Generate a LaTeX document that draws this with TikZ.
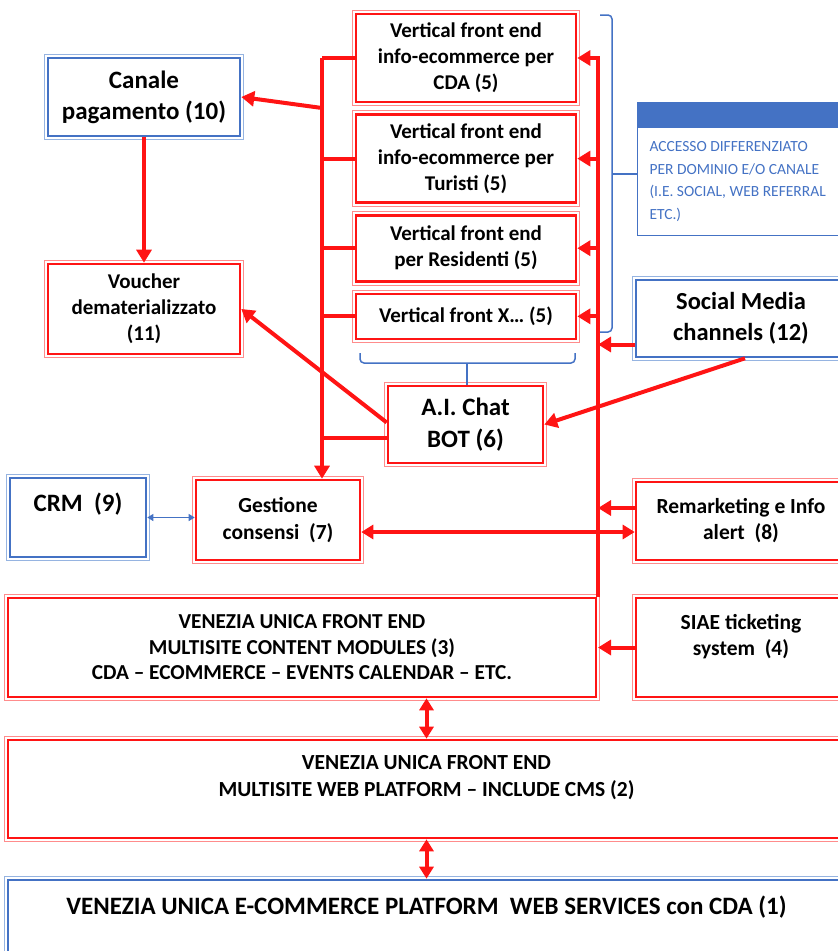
\documentclass[tikz,border=0pt]{standalone}
\usepackage{fontspec}
\setmainfont{Carlito}
\usetikzlibrary{arrows.meta}
\usetikzlibrary{positioning}

\definecolor{vred}{RGB}{255,20,20}
\definecolor{vpink}{RGB}{255,140,140}
\definecolor{vblue}{RGB}{68,114,196}
\definecolor{vlblue}{RGB}{150,180,225}

\tikzset{
  box/.style={line width=2.6pt, align=center, inner sep=2pt, font=\bfseries\fontsize{21.5}{26}\selectfont},
  redbox/.style={box, draw=vred},
  bluebox/.style={box, draw=vblue},
  link/.style={draw=vred, line width=4pt},
  arr/.style={link, -{Triangle[length=13pt,width=15pt]}},
  darr/.style={link, {Triangle[length=12pt,width=14pt]}-{Triangle[length=12pt,width=14pt]}},
  blink/.style={draw=vblue, line width=1pt, {Triangle[length=6pt,width=7pt]}-{Triangle[length=6pt,width=7pt]}},
  brace/.style={draw=vblue, line width=1.5pt, rounded corners=4pt},
}

\begin{document}
\begin{tikzpicture}[x=1pt,y=-1pt]
        \useasboundingbox (0,0) rectangle (838,951);

        % Vertical front ends
        \node[redbox, minimum width=220pt, minimum height=88pt, font=\bfseries\fontsize{21}{26}\selectfont]  (v1) at (466,58) {Vertical front end\\info-ecommerce per\\CDA (5)};
        \node[redbox, minimum width=220pt, minimum height=88pt, font=\bfseries\fontsize{21}{26}\selectfont, below=10pt of v1]  (v2) {Vertical front end\\info-ecommerce per\\Turisti (5)};
        \node[redbox, minimum width=220pt, minimum height=66pt, font=\bfseries\fontsize{21}{26}\selectfont, below=10pt of v2]  (v3) {Vertical front end\\per Residenti (5)};
        \node[redbox, minimum width=220pt, minimum height=45pt, font=\bfseries\fontsize{21}{26}\selectfont, below=10pt of v3]  (v4) {Vertical front X… (5)};

        % Left side
        \node[bluebox, minimum width=192pt, minimum height=78pt, font=\bfseries\fontsize{25}{31}\selectfont]  (pay) at (144,97) {Canale\\pagamento (10)};
        \node[redbox, minimum width=192pt, minimum height=90pt, font=\bfseries\fontsize{21}{26}\selectfont]  (vouch) at (144,309) {Voucher\\dematerializzato\\(11)};
        \node[redbox, minimum width=155pt, minimum height=77pt, font=\bfseries\fontsize{25}{32}\selectfont]  (bot) at (465.5,424.5) {A.I. Chat\\BOT (6)};
        \node[bluebox, minimum width=136pt, minimum height=79pt, font=\bfseries\fontsize{25}{31}\selectfont]  (crm) at (78,517.5) {CRM~~(9)\\\mbox{}};
        \node[redbox, minimum width=164pt, minimum height=80pt, font=\bfseries\fontsize{21.5}{27}\selectfont]  (cons) at (278,520) {Gestione\\consensi~~(7)};

        % Right side
        \node[bluebox, minimum width=210pt, minimum height=77pt, font=\bfseries\fontsize{24.5}{31}\selectfont]  (soc) at (741,318.5) {Social Media\\channels (12)};
        \node[redbox, minimum width=210pt, minimum height=78pt]  (remk) at (741,521) {Remarketing e Info\\alert~~(8)};
        \node[redbox, minimum width=210pt, minimum height=99pt]  (siae) at (741,647.5) {SIAE ticketing\\system~~(4)\\\mbox{}};

        \node[anchor=north west, draw=vblue, line width=1pt, minimum width=214pt, minimum height=108pt,
              text width=195pt, inner xsep=12pt, align=flush left, text=vblue,
              font=\fontsize{15.5}{22.5}\selectfont]  (note) at (637,127)
              {ACCESSO DIFFERENZIATO\\PER DOMINIO E/O CANALE\\(I.E. SOCIAL, WEB REFERRAL\\ETC.)};
        \node[fill=vblue, anchor=south west, minimum width=219pt, minimum height=25pt, inner sep=0pt]  (head) at (note.north west) {};

        % Platform layers
        \node[redbox, minimum width=588pt, minimum height=99pt, font=\bfseries\fontsize{21.3}{25.5}\selectfont]  (mods) at (302,647.5) {VENEZIA UNICA FRONT END\\MULTISITE CONTENT MODULES (3)\\CDA – ECOMMERCE – EVENTS CALENDAR – ETC.};
        \node[redbox, minimum width=837pt, minimum height=98pt, font=\bfseries\fontsize{21.5}{27}\selectfont]  (web) at (426.5,789) {VENEZIA UNICA FRONT END\\MULTISITE WEB PLATFORM – INCLUDE CMS (2)\\\mbox{}};
        \node[bluebox, minimum width=837pt, minimum height=80pt, font=\bfseries\fontsize{25}{30}\selectfont]  (core) at (426.5,920) {VENEZIA UNICA E-COMMERCE PLATFORM~~WEB SERVICES con CDA (1)\\\mbox{}};

        % Outer frames
        \foreach \n in {v1,v2,v3,v4,vouch,bot,cons,remk,siae,mods,web}
            \draw[vpink, line width=0.8pt] ([shift={(-2.5pt,2.5pt)}]\n.north west) rectangle ([shift={(2.5pt,-2.5pt)}]\n.south east);
        \foreach \n in {pay,crm,soc,core}
            \draw[vlblue, line width=0.8pt] ([shift={(-2.5pt,2.5pt)}]\n.north west) rectangle ([shift={(2.5pt,-2.5pt)}]\n.south east);

        % Braces
        \draw[brace] (600,15) -- (612,15) -- (612,332) -- (600,332);
        \coordinate (brR) at (612,174);
        \draw[brace] (brR) -- (brR -| note.west);
        \draw[brace] (360,353) -- (360,363) -- (575,363) -- (575,353);
        \coordinate (brB) at (467,363);
        \draw[brace] (brB) -- (brB |- bot.north);

        % Left trunk
        \coordinate (lT) at (322,58);
        \coordinate (lPay) at (322,108);
        \coordinate (botL) at ([yshift=-13pt]bot.west);
        \coordinate (botV) at ([yshift=2pt]bot.west);
        \draw[link] (lT) -- (v1.west);
        \foreach \n in {v2,v3,v4}
            \draw[link] (\n.west -| lT) -- (\n.west);
        \draw[link] (botL -| lT) -- (botL);
        \draw[arr] (lT) -- (lT |- cons.north);
        \draw[arr] (lPay) -- (pay.east);
        \draw[arr] (pay.south) -- (vouch.north);
        \draw[arr] (botV) -- (vouch.east);

        % Right trunk
        \coordinate (rT) at (598,58);
        \coordinate (socL) at ([yshift=-26pt]soc.west);
        \coordinate (remkL) at ([yshift=13pt]remk.west);
        \coordinate (consR) at ([yshift=-12pt]cons.east);
        \draw[arr] (rT |- mods.north) -- (rT) -- (v1.east);
        \foreach \n in {v2,v3,v4}
            \draw[arr] (\n.east -| rT) -- (\n.east);
        \draw[arr] (socL) -- (socL -| rT);
        \draw[arr] (remkL) -- (remkL -| rT);
        \draw[arr] (siae.west) -- (siae.west -| rT);
        \draw[darr] (consR) -- (consR -| remk.west);
        \draw[arr] ([xshift=4pt]soc.south) -- (bot.east);
        \draw[blink] (crm.east) -- (crm.east -| cons.west);

        % Layers
        \draw[darr] (web.north |- mods.south) -- (web.north);
        \draw[darr] (web.south) -- (core.north);
    \end{tikzpicture}
\end{document}
